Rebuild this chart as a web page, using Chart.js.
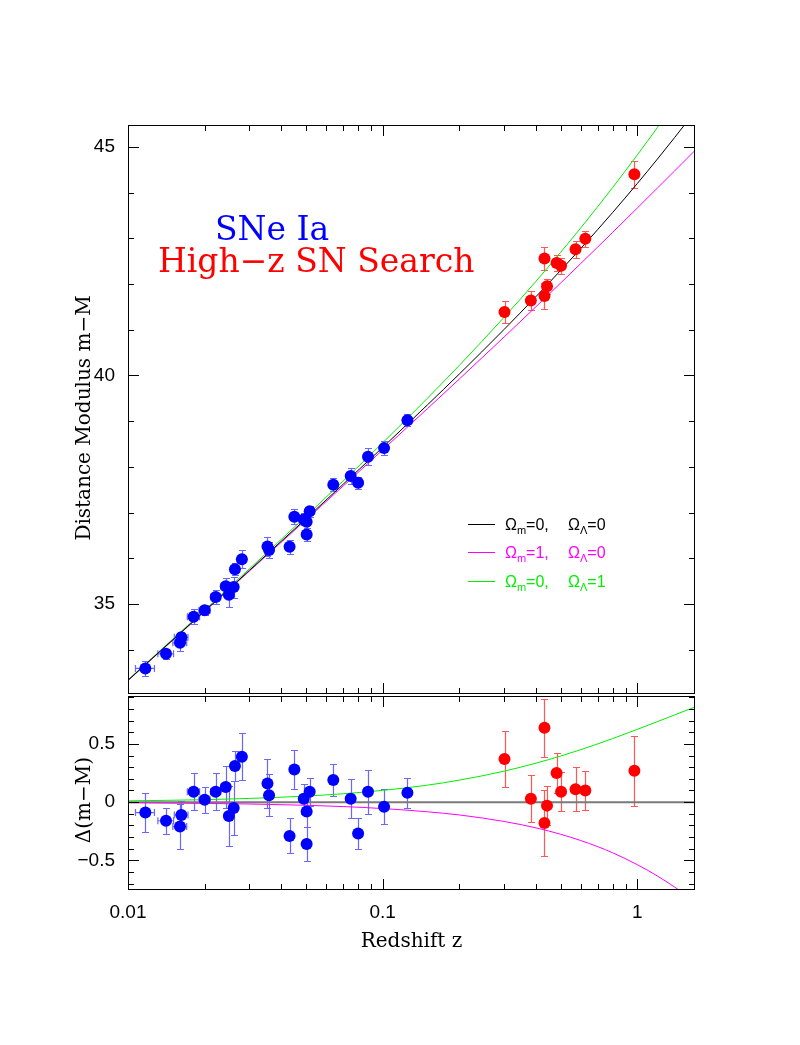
<!DOCTYPE html>
<html>
<head>
<meta charset="utf-8">
<title>SNe Ia Hubble diagram</title>
<script src="https://cdn.jsdelivr.net/npm/chart.js@4.4.1/dist/chart.umd.min.js"></script>
<style>
  html, body { margin: 0; padding: 0; background: #fff; }
  #page { position: relative; width: 800px; height: 1045px; }
  #page canvas { position: absolute; left: 0; }
  #hubble-chart { top: 0; }
  #residual-chart { top: 690px; }
</style>
</head>
<body>
<div id="page">
  <canvas id="hubble-chart" width="800" height="700"></canvas>
  <canvas id="residual-chart" width="800" height="355"></canvas>
</div>
<script>
// ---- values ----

// model curves, sampled in redshift
const curveZ    = [0.01, 0.02, 0.03, 0.05, 0.07, 0.1, 0.15, 0.2, 0.3, 0.4, 0.5, 0.6, 0.7, 0.8, 1.0, 1.2, 1.4, 1.5, 1.7];
const muEmpty   = [33.330, 34.846, 35.737, 36.867, 37.619, 38.425, 39.357, 40.031, 41.008, 41.725, 42.298, 42.779, 43.196, 43.565, 44.199, 44.736, 45.202, 45.415, 45.807];
const muMatter  = [33.325, 34.835, 35.721, 36.840, 37.581, 38.370, 39.275, 39.921, 40.842, 41.504, 42.022, 42.450, 42.813, 43.130, 43.662, 44.102, 44.473, 44.641, 44.944];
const muLambda  = [33.341, 34.867, 35.769, 36.919, 37.691, 38.526, 39.503, 40.220, 41.274, 42.060, 42.694, 43.230, 43.697, 44.111, 44.824, 45.428, 45.951, 46.189, 46.628];
const resMatter = [-0.005, -0.011, -0.016, -0.027, -0.038, -0.055, -0.083, -0.110, -0.166, -0.221, -0.276, -0.330, -0.383, -0.435, -0.537, -0.635, -0.729, -0.774, -0.863];
const resLambda = [0.011, 0.021, 0.032, 0.052, 0.072, 0.101, 0.146, 0.189, 0.266, 0.335, 0.396, 0.451, 0.501, 0.546, 0.625, 0.692, 0.749, 0.775, 0.821];

// nearby supernovae (blue)
const lowZ   = [0.0117, 0.0141, 0.0162, 0.0160, 0.0181, 0.0200, 0.0221, 0.0242, 0.0249, 0.0260, 0.0263, 0.0280, 0.0353, 0.0358, 0.0431, 0.0450, 0.0490, 0.0503, 0.0503, 0.0517, 0.0640, 0.0749, 0.0801, 0.0876, 0.1013, 0.1251];
const lowMu  = [33.59, 33.91, 34.27, 34.15, 34.72, 34.86, 35.15, 35.39, 35.20, 35.37, 35.76, 35.98, 36.26, 36.18, 36.25, 36.91, 36.85, 36.80, 36.52, 37.03, 37.61, 37.80, 37.65, 38.22, 38.41, 39.02];
const lowRes = [-0.09, -0.16, -0.11, -0.21, 0.09, 0.02, 0.09, 0.13, -0.12, -0.05, 0.31, 0.39, 0.16, 0.06, -0.29, 0.28, 0.03, -0.08, -0.36, 0.09, 0.19, 0.03, -0.27, 0.09, -0.04, 0.08];
const lowErr = [0.17, 0.11, 0.12, 0.19, 0.16, 0.11, 0.16, 0.18, 0.26, 0.23, 0.13, 0.20, 0.21, 0.18, 0.15, 0.17, 0.13, 0.13, 0.15, 0.12, 0.14, 0.17, 0.13, 0.19, 0.15, 0.13];
const lowZErr = 0.001;

// High-z SN Search (red)
const highZ   = [0.301, 0.382, 0.432, 0.432, 0.442, 0.482, 0.502, 0.572, 0.625, 0.974];
const highMu  = [41.39, 41.64, 42.56, 41.74, 41.95, 42.46, 42.40, 42.76, 42.99, 44.40];
const highRes = [0.37, 0.03, 0.64, -0.18, -0.03, 0.25, 0.09, 0.11, 0.10, 0.27];
const highErr = [0.24, 0.20, 0.25, 0.28, 0.17, 0.17, 0.17, 0.19, 0.17, 0.30];

// legend models
const modelOmegaM = [0, 1, 0];
const modelOmegaL = [0, 0, 1];

// tick labels
const zTicks   = [0.01, 0.1, 1];
const muTicks  = [35, 40, 45];
const resTicks = [-0.5, 0, 0.5];

// ---- look ----
const Z_MIN = 0.01, Z_MAX = 1.685;
const BLUE = '#0000ff', RED = '#ff0000', MAGENTA = '#ff00ff', GREEN = '#00ee00';
const BLUE_BAR = 'rgba(40, 40, 255, 0.7)', RED_BAR = 'rgba(255, 30, 30, 0.75)';
const MODEL_COLORS = ['#000000', MAGENTA, GREEN];
const MAJOR = 11, MINOR = 6, CAP = 3.5;
const TICK_FONT = { family: '"Liberation Sans", Arial, sans-serif', size: 19 };
const TITLE_FONT = '20px "DejaVu Serif", serif';

Chart.defaults.animation = false;
Chart.defaults.color = '#000';

const pts = (xs, ys) => xs.map((x, i) => ({ x: x, y: ys[i] }));

function curve(label, ys, color, width) {
    return {
        label: label,
        data: pts(curveZ, ys),
        borderColor: color,
        borderWidth: width || 1,
        pointRadius: 0,
        fill: false,
        cubicInterpolationMode: 'monotone',
        order: 1
    };
}

function dots(label, xs, ys, color) {
    return {
        label: label,
        data: pts(xs, ys),
        showLine: false,
        pointRadius: 6,
        pointHoverRadius: 6,
        pointBackgroundColor: color,
        pointBorderWidth: 0,
        order: 0
    };
}

function xScale(showLabels) {
    return {
        type: 'logarithmic',
        min: Z_MIN,
        max: Z_MAX,
        display: showLabels,
        grid: { display: false, drawTicks: false },
        border: { display: false },
        afterBuildTicks: s => { s.ticks = zTicks.map(v => ({ value: v })); },
        afterFit: s => {
            if (showLabels) s.height = 155;
            s.paddingLeft = 0;
            s.paddingRight = 0;
        },
        ticks: {
            autoSkip: false,
            maxRotation: 0,
            padding: 11,
            font: TICK_FONT,
            callback: v => String(v)
        }
    };
}

function yScale(min, max, tickValues) {
    return {
        type: 'linear',
        min: min,
        max: max,
        grid: { display: false, drawTicks: false },
        border: { display: false },
        afterBuildTicks: s => { s.ticks = tickValues.map(v => ({ value: v })); },
        afterFit: s => {
            // fixed axis box, labels may overflow the panel edge
            s.width = 128;
            s.paddingTop = 0;
            s.paddingBottom = 0;
        },
        ticks: {
            padding: 13,
            font: TICK_FONT,
            callback: v => v < 0 ? '\u2212' + Math.abs(v) : String(v)
        }
    };
}

// error bars are drawn under the datasets, from the chart's own scales
function errorBars(sets) {
    return {
        id: 'errorBars',
        beforeDatasetsDraw(chart) {
            const { ctx, chartArea: a, scales: { x, y } } = chart;
            ctx.save();
            ctx.beginPath();
            ctx.rect(a.left, a.top, a.right - a.left, a.bottom - a.top);
            ctx.clip();
            ctx.lineWidth = 1.2;
            sets.forEach(s => {
                ctx.strokeStyle = s.color;
                ctx.beginPath();
                s.z.forEach((z, i) => {
                    const px = Math.round(x.getPixelForValue(z)) + 0.5;
                    const py = y.getPixelForValue(s.val[i]);
                    const y0 = Math.round(y.getPixelForValue(s.val[i] - s.err[i])) + 0.5;
                    const y1 = Math.round(y.getPixelForValue(s.val[i] + s.err[i])) + 0.5;
                    ctx.moveTo(px, y0); ctx.lineTo(px, y1);
                    ctx.moveTo(px - CAP, y0); ctx.lineTo(px + CAP, y0);
                    ctx.moveTo(px - CAP, y1); ctx.lineTo(px + CAP, y1);
                    if (s.zErr) {
                        const x0 = x.getPixelForValue(z - s.zErr);
                        const x1 = x.getPixelForValue(z + s.zErr);
                        ctx.moveTo(x0, py); ctx.lineTo(x1, py);
                        ctx.moveTo(x0, py - CAP); ctx.lineTo(x0, py + CAP);
                        ctx.moveTo(x1, py - CAP); ctx.lineTo(x1, py + CAP);
                    }
                });
                ctx.stroke();
            });
            ctx.restore();
        }
    };
}

// box with inward ticks on all four sides
function drawFrame(chart, yMajor, yStep) {
    const { ctx, chartArea: a, scales: { x, y } } = chart;
    ctx.save();
    ctx.strokeStyle = '#000';
    ctx.lineWidth = 1;
    ctx.strokeRect(a.left + 0.5, a.top + 0.5, a.right - a.left - 1, a.bottom - a.top - 1);
    ctx.beginPath();
    for (let d = Z_MIN; d < Z_MAX; d *= 10) {
        for (let m = 1; m < 10; m++) {
            const v = m * d;
            if (v > Z_MAX) break;
            const px = Math.round(x.getPixelForValue(v)) + 0.5;
            const len = m === 1 ? MAJOR : MINOR;
            ctx.moveTo(px, a.top); ctx.lineTo(px, a.top + len);
            ctx.moveTo(px, a.bottom); ctx.lineTo(px, a.bottom - len);
        }
    }
    const first = Math.ceil(y.min / yStep - 1e-6);
    for (let k = first; k * yStep <= y.max + 1e-9; k++) {
        const v = k * yStep;
        const major = yMajor.some(t => Math.abs(t - v) < 1e-6);
        const py = Math.round(y.getPixelForValue(v)) + 0.5;
        const len = major ? MAJOR : MINOR;
        ctx.moveTo(a.left, py); ctx.lineTo(a.left + len, py);
        ctx.moveTo(a.right, py); ctx.lineTo(a.right - len, py);
    }
    ctx.stroke();
    ctx.restore();
}

function verticalTitle(ctx, text, x, y) {
    ctx.save();
    ctx.translate(x, y);
    ctx.rotate(-Math.PI / 2);
    ctx.font = TITLE_FONT;
    ctx.fillStyle = '#000';
    ctx.textAlign = 'center';
    ctx.fillText(text, 0, 0);
    ctx.restore();
}

function drawLegend(ctx) {
    const lineX0 = 468, lineX1 = 495, textX = 505;
    const rows = [524, 552, 581];
    ctx.save();
    ctx.textBaseline = 'alphabetic';
    rows.forEach((ry, i) => {
        const color = MODEL_COLORS[i];
        ctx.strokeStyle = color;
        ctx.lineWidth = 1;
        ctx.beginPath();
        ctx.moveTo(lineX0, ry + 0.5); ctx.lineTo(lineX1, ry + 0.5);
        ctx.stroke();

        ctx.fillStyle = color;
        const base = ry + 6;
        let cx = textX;
        const put = (t, size, dy) => {
            ctx.font = size + 'px "Liberation Sans", Arial, sans-serif';
            ctx.fillText(t, cx, base + dy);
            cx += ctx.measureText(t).width;
        };
        put('\u03A9', 16, 0); put('m', 11, 4); put('=' + modelOmegaM[i] + ',', 16, 0);
        cx = textX + 63;
        put('\u03A9', 16, 0); put('\u039B', 11, 4); put('=' + modelOmegaL[i], 16, 0);
    });
    ctx.restore();
}

function drawTitles(ctx) {
    ctx.save();
    const font = '"DejaVu Serif", serif';
    ctx.font = '32px ' + font;
    const fit = 32 * 317 / ctx.measureText('High\u2212z SN Search').width;
    ctx.font = fit.toFixed(1) + 'px ' + font;
    ctx.fillStyle = BLUE;
    ctx.fillText('SNe Ia', 215, 240);
    ctx.fillStyle = RED;
    ctx.fillText('High\u2212z SN Search', 158, 272);
    ctx.restore();
}

// ---- upper panel: distance modulus ----
new Chart(document.getElementById('hubble-chart'), {
    type: 'line',
    data: {
        datasets: [
            dots('SNe Ia', lowZ, lowMu, BLUE),
            dots('High-z SN Search', highZ, highMu, RED),
            curve('\u03A9m=0, \u03A9\u039B=0', muEmpty, '#000000'),
            curve('\u03A9m=1, \u03A9\u039B=0', muMatter, MAGENTA),
            curve('\u03A9m=0, \u03A9\u039B=1', muLambda, GREEN)
        ]
    },
    options: {
        responsive: false,
        events: [],
        layout: { padding: { top: 125, right: 105, bottom: 5, left: 0 } },
        scales: {
            x: xScale(false),
            y: yScale(33.03, 45.48, muTicks)
        },
        plugins: { legend: { display: false }, tooltip: { enabled: false } }
    },
    plugins: [
        errorBars([
            { z: lowZ, val: lowMu, err: lowErr, zErr: lowZErr, color: BLUE_BAR },
            { z: highZ, val: highMu, err: highErr, color: RED_BAR }
        ]),
        {
            id: 'hubbleFrame',
            afterDraw(chart) {
                const ctx = chart.ctx;
                drawFrame(chart, muTicks, 1);
                drawTitles(ctx);
                drawLegend(ctx);
                verticalTitle(ctx, 'Distance Modulus m\u2212M', 90, 418);
            }
        }
    ]
});

// ---- lower panel: residuals from the empty universe ----
new Chart(document.getElementById('residual-chart'), {
    type: 'line',
    data: {
        datasets: [
            dots('SNe Ia', lowZ, lowRes, BLUE),
            dots('High-z SN Search', highZ, highRes, RED),
            {
                label: 'zero',
                data: pts([Z_MIN, Z_MAX], [0, 0]),
                borderColor: '#7a7a7a',
                borderWidth: 2,
                pointRadius: 0,
                order: 2
            },
            curve('\u03A9m=1, \u03A9\u039B=0', resMatter, MAGENTA),
            curve('\u03A9m=0, \u03A9\u039B=1', resLambda, GREEN)
        ]
    },
    options: {
        responsive: false,
        events: [],
        layout: { padding: { top: 5, right: 105, bottom: 0, left: 0 } },
        scales: {
            x: xScale(true),
            y: yScale(-0.755, 0.912, resTicks)
        },
        plugins: { legend: { display: false }, tooltip: { enabled: false } }
    },
    plugins: [
        errorBars([
            { z: lowZ, val: lowRes, err: lowErr, zErr: lowZErr, color: BLUE_BAR },
            { z: highZ, val: highRes, err: highErr, color: RED_BAR }
        ]),
        {
            id: 'residualFrame',
            afterDraw(chart) {
                const ctx = chart.ctx;
                const a = chart.chartArea;
                drawFrame(chart, resTicks, 0.1);
                verticalTitle(ctx, '\u0394(m\u2212M)', 90, 110);
                ctx.save();
                ctx.font = TITLE_FONT;
                ctx.fillStyle = '#000';
                ctx.textAlign = 'center';
                ctx.fillText('Redshift z', (a.left + a.right) / 2, 257);
                ctx.restore();
            }
        }
    ]
});
</script>
</body>
</html>
